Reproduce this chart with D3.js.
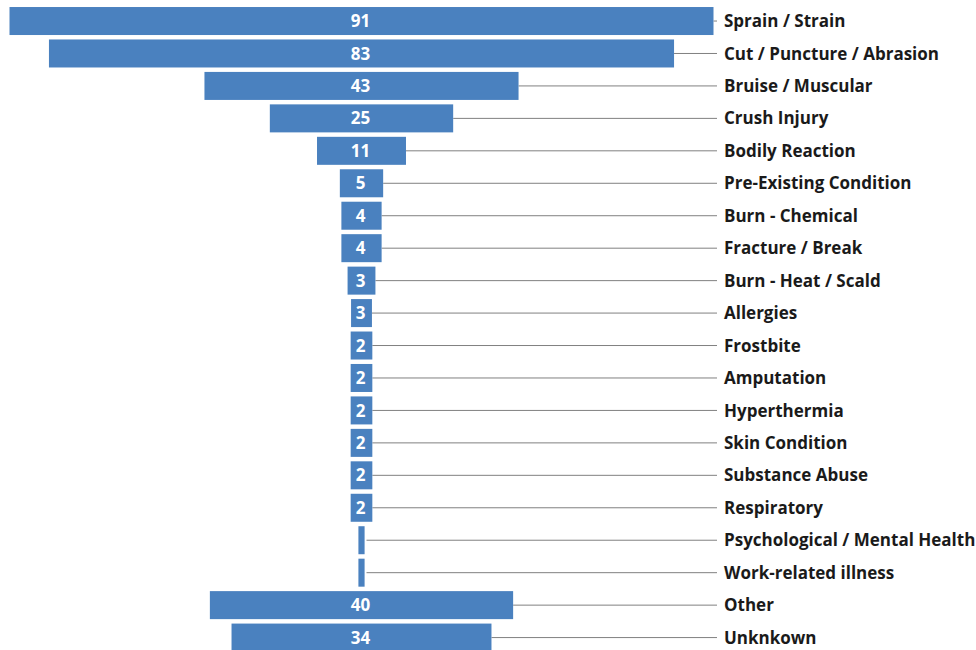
<!DOCTYPE html>
<html>
<head>
<meta charset="utf-8">
<script src="https://cdn.jsdelivr.net/npm/d3@7"></script>
<style>
  body { margin: 0; background: #fff; }
</style>
</head>
<body>
<script>
// categories, top to bottom
const categories = [
  "Sprain / Strain", "Cut / Puncture / Abrasion", "Bruise / Muscular", "Crush Injury",
  "Bodily Reaction", "Pre-Existing Condition", "Burn - Chemical", "Fracture / Break",
  "Burn - Heat / Scald", "Allergies", "Frostbite", "Amputation", "Hyperthermia",
  "Skin Condition", "Substance Abuse", "Respiratory", "Psychological / Mental Health",
  "Work-related illness", "Other", "Unknkown"
];
// numbers printed on the bars (null = no label shown)
const shown = [91, 83, 43, 25, 11, 5, 4, 4, 3, 3, 2, 2, 2, 2, 2, 2, null, null, 40, 34];
// bar sizes
const sizes = [91, 80.8, 40.6, 23.7, 11.5, 5.6, 5.2, 5.2, 3.6, 2.7, 2.8, 2.8, 2.8, 2.8, 2.8, 2.8, 0.8, 0.8, 39.2, 33.6];

const width = 976;
const height = 650;
const cx = 361.5;      // funnel centre
const labelX = 724;    // category text start

const data = categories.map((c, i) => ({ cat: c, label: shown[i], size: sizes[i] }));

const svg = d3.select("body").append("svg")
  .attr("width", width)
  .attr("height", height);

const xScale = d3.scaleLinear()
  .domain([0, 91])
  .range([0, 704]);

const yScale = d3.scaleBand()
  .domain(categories)
  .range([4.8, 653.8])
  .paddingInner(0.137)
  .paddingOuter(0.0685);

// connector lines
svg.selectAll("line.conn")
  .data(data)
  .enter()
  .append("line")
  .attr("class", "conn")
  .attr("x1", d => Math.max(cx + xScale(d.size) / 2, cx + 5))
  .attr("x2", labelX - 7)
  .attr("y1", d => yScale(d.cat) + yScale.bandwidth() / 2)
  .attr("y2", d => yScale(d.cat) + yScale.bandwidth() / 2)
  .attr("stroke", "#808080")
  .attr("stroke-width", 1);

// bars
svg.selectAll("rect.bar")
  .data(data)
  .enter()
  .append("rect")
  .attr("class", "bar")
  .attr("x", d => cx - xScale(d.size) / 2)
  .attr("y", d => yScale(d.cat))
  .attr("width", d => xScale(d.size))
  .attr("height", yScale.bandwidth())
  .attr("fill", "#4a81bf");

// value labels
svg.selectAll("text.val")
  .data(data.filter(d => d.label != null))
  .enter()
  .append("text")
  .attr("class", "val")
  .attr("x", cx - 1)
  .attr("y", d => yScale(d.cat) + yScale.bandwidth() / 2)
  .attr("dy", "0.36em")
  .attr("text-anchor", "middle")
  .style("font-family", "'Open Sans', sans-serif")
  .style("font-weight", "bold")
  .style("font-size", "17px")
  .attr("fill", "#fff")
  .text(d => d.label);

// category labels
svg.selectAll("text.cat")
  .data(data)
  .enter()
  .append("text")
  .attr("class", "cat")
  .attr("x", labelX)
  .attr("y", d => yScale(d.cat) + yScale.bandwidth() / 2)
  .attr("dy", "0.36em")
  .style("font-family", "'Open Sans', sans-serif")
  .style("font-weight", "bold")
  .style("font-size", "17px")
  .attr("fill", "#1a1a1a")
  .text(d => d.cat);
</script>
</body>
</html>
